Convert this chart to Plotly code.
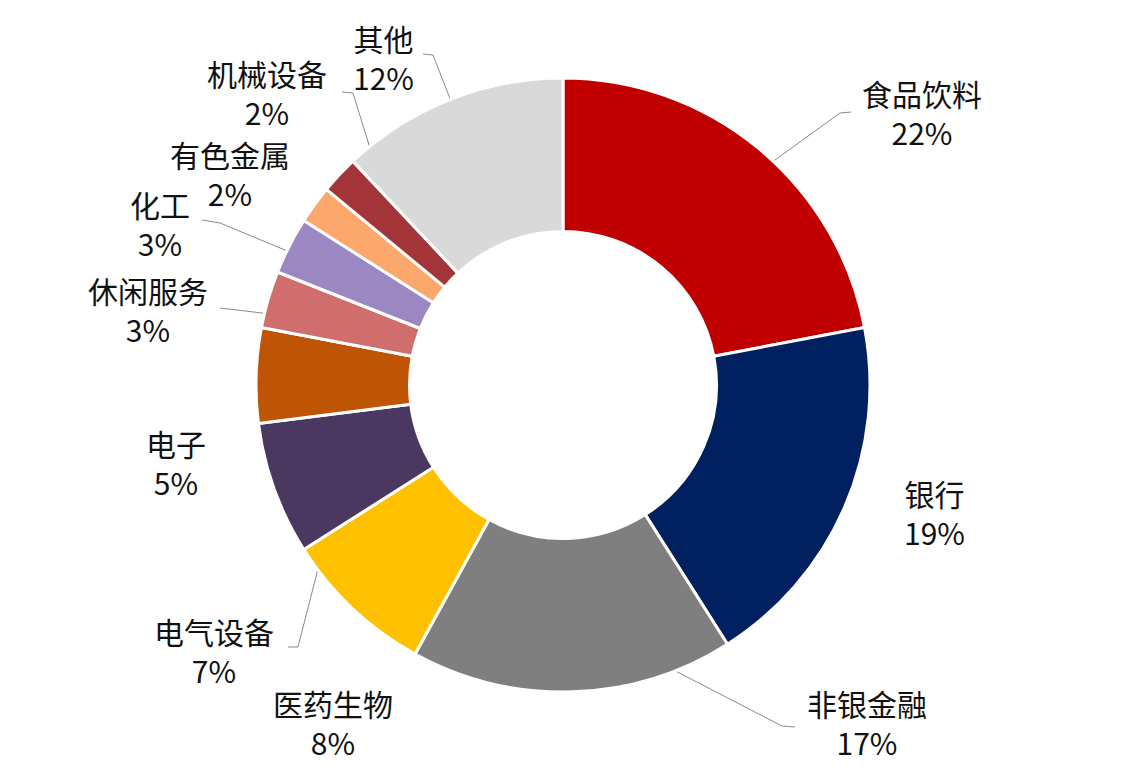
import math
import plotly.graph_objects as go

# industry weights, clockwise from 12 o'clock
sectors = ["食品饮料", "银行", "非银金融", "医药生物", "电气设备", "电子",
           "休闲服务", "化工", "有色金属", "机械设备", "其他"]
weights = [22, 19, 17, 8, 7, 5, 3, 3, 2, 2, 12]
colors = ["#C00000", "#002060", "#7F7F7F", "#FFC000", "#4A3861", "#BE5504",
          "#D06E6E", "#9B87C1", "#FCA76B", "#A33538", "#D9D9D9"]

# centre of each two-line label (page pixels) and the elbow of its leader line
label_pos = {
    "食品饮料": (922, 112), "银行": (934, 512), "非银金融": (867, 722),
    "医药生物": (333, 722), "电气设备": (214, 650), "电子": (176, 462),
    "休闲服务": (148, 309), "化工": (160, 223), "有色金属": (230, 173),
    "机械设备": (267, 92), "其他": (383, 57),
}
leader_elbow = {
    "食品饮料": [(851, 112), (840, 113)],
    "非银金融": [(795, 727), (782, 726)],
    "电气设备": [(288, 647), (298, 647)],
    "休闲服务": [(220, 308), (262, 313)],
    "化工": [(202, 220), (220, 223)],
    "机械设备": [(342, 92), (353, 93)],
    "其他": [(423, 54), (433, 55)],
}

# the page has an 8px body margin, so the figure is drawn inside it
PAD = 8
PAGE_W, PAGE_H = 1126, 772
W, H = PAGE_W - 2 * PAD, PAGE_H - 2 * PAD
cx, cy, R = 563, 385, 307

fig = go.Figure()
fig.add_trace(go.Pie(
    labels=sectors, values=weights, sort=False, direction="clockwise",
    hole=0.5, textinfo="none", hoverinfo="label+percent",
    marker=dict(colors=colors, line=dict(color="white", width=3)),
    domain=dict(x=[(cx - PAD - R) / W, (cx - PAD + R) / W],
                y=[(H - (cy - PAD) - R) / H, (H - (cy - PAD) + R) / H]),
    showlegend=False,
))

# leader lines: from the slice middle (at 3/4 of the radius) out to the label
total = sum(weights)
cum = 0
for name, v in zip(sectors, weights):
    mid = (cum + v / 2) / total * 2 * math.pi
    cum += v
    if name not in leader_elbow:
        continue
    ax = cx + 0.755 * R * math.sin(mid)
    ay = cy - 0.755 * R * math.cos(mid)
    pts = leader_elbow[name][::-1]
    xs = [ax] + [p[0] for p in pts]
    ys = [ay] + [p[1] for p in pts]
    fig.add_trace(go.Scatter(x=xs, y=ys, mode="lines", line=dict(color="#8a8a8a", width=1),
                             hoverinfo="skip", showlegend=False))

font = dict(family="Noto Sans CJK SC, sans-serif", size=30, color="#111111")
for name, v in zip(sectors, weights):
    x, y = label_pos[name]
    fig.add_annotation(x=x, y=y, text=f"{name}<br>{v}%", showarrow=False, font=font,
                       xref="x", yref="y", align="center")

fig.update_layout(
    width=W, height=H, margin=dict(l=0, r=0, t=0, b=0),
    paper_bgcolor="white", plot_bgcolor="rgba(0,0,0,0)",
    xaxis=dict(range=[PAD, PAD + W], visible=False, fixedrange=True),
    yaxis=dict(range=[PAD + H, PAD], visible=False, fixedrange=True),
)

fig.write_html("out.html")
